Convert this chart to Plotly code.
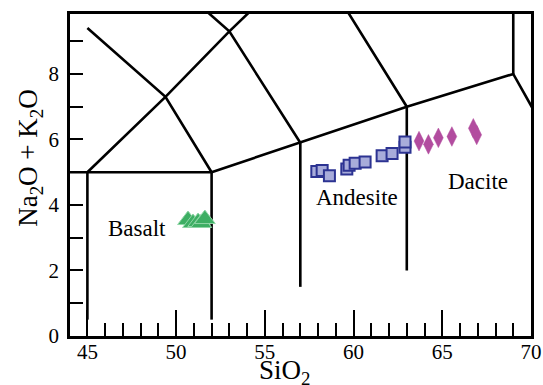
import plotly.graph_objects as go

# Sample compositions (SiO2 wt%, Na2O + K2O wt%)
basalt_sio2 = [50.67, 50.95, 51.24, 51.42, 51.62]
basalt_alk = [3.54, 3.45, 3.48, 3.45, 3.57]

andesite_sio2 = [57.93, 58.23, 58.64, 59.62, 59.75, 60.09, 60.65, 61.61, 62.17, 62.90, 62.90]
andesite_alk = [5.02, 5.05, 4.89, 5.10, 5.21, 5.27, 5.31, 5.50, 5.57, 5.76, 5.92]

dacite_sio2 = [63.69, 64.22, 64.78, 65.54, 66.75, 66.94]
dacite_alk = [5.95, 5.85, 6.05, 6.09, 6.34, 6.14]

# TAS field boundaries (Le Bas et al.), each a polyline of (SiO2, alkali) vertices
boundaries = [
    [(44.0, 5.0), (52.0, 5.0)],
    [(45.0, 0.5), (45.0, 5.0)],
    [(52.0, 0.5), (52.0, 5.0)],
    [(45.0, 5.0), (49.4, 7.3), (53.0, 9.3), (57.6, 11.7)],
    [(45.0, 9.4), (49.4, 7.3), (52.0, 5.0)],
    [(48.4, 11.5), (53.0, 9.3), (57.0, 5.9)],
    [(52.0, 5.0), (57.0, 5.9), (63.0, 7.0), (69.0, 8.0), (77.3, 0.0)],
    [(57.0, 1.5), (57.0, 5.9)],
    [(63.0, 2.0), (63.0, 7.0), (57.6, 11.7)],
    [(69.0, 8.0), (69.0, 13.0)],
]

field_names = ["Basalt", "Andesite", "Dacite"]
field_label_x = [47.80, 60.17, 67.02]
field_label_y = [3.27, 4.22, 4.72]

x_range = [44.02, 70.0]
y_range = [0.0, 9.83]

serif = "Liberation Serif"

fig = go.Figure()

bx, by = [], []
for seg in boundaries:
    for px, py in seg:
        bx.append(px)
        by.append(py)
    bx.append(None)
    by.append(None)

fig.add_trace(go.Scatter(
    x=bx, y=by, mode="lines",
    line=dict(color="black", width=2.6),
    hoverinfo="skip", showlegend=False,
))

fig.add_trace(go.Scatter(
    x=basalt_sio2, y=basalt_alk, mode="markers", name="Basalt",
    marker=dict(symbol="triangle-up", size=18, color="#3dae63",
                line=dict(color="#8fd6a6", width=1)),
    showlegend=False,
))

fig.add_trace(go.Scatter(
    x=andesite_sio2, y=andesite_alk, mode="markers", name="Andesite",
    marker=dict(symbol="square", size=11, color="#a8acda",
                line=dict(color="#2c3392", width=2)),
    showlegend=False,
))

fig.add_trace(go.Scatter(
    x=dacite_sio2, y=dacite_alk, mode="markers", name="Dacite",
    marker=dict(symbol="diamond-tall", size=14, color="#b24c9f",
                line=dict(color="#b24c9f", width=0.5)),
    showlegend=False,
))

for name, lx, ly in zip(field_names, field_label_x, field_label_y):
    fig.add_annotation(
        x=lx, y=ly, xref="x", yref="y", text=name, showarrow=False,
        font=dict(family=serif, size=23, color="black"),
        xanchor="center", yanchor="middle",
    )

# axis titles
fig.add_annotation(
    x=0.466, y=-0.053, xref="paper", yref="paper",
    text="SiO<sub>2</sub>", showarrow=False,
    font=dict(family=serif, size=27, color="black"),
    xanchor="center", yanchor="top",
)
fig.add_annotation(
    x=-0.087, y=0.553, xref="paper", yref="paper",
    text="Na<sub>2</sub>O + K<sub>2</sub>O", showarrow=False, textangle=-90,
    font=dict(family=serif, size=27, color="black"),
    xanchor="center", yanchor="middle",
)

axis_common = dict(
    showgrid=False, zeroline=False, showline=True, linecolor="black",
    linewidth=2.6, mirror=True, ticks="inside", tickcolor="black",
    tickwidth=2, tickfont=dict(family=serif, size=21, color="black"),
    automargin=False,
)

fig.update_xaxes(
    range=x_range, tick0=45, dtick=5, ticklen=26, ticklabelstandoff=-5,
    minor=dict(dtick=1, tick0=45, ticks="inside", ticklen=13,
               tickwidth=2, tickcolor="black", showgrid=False),
    **axis_common,
)
fig.update_yaxes(
    range=y_range, tick0=0, dtick=2, ticklen=13, ticklabelstandoff=4,
    minor=dict(dtick=1, tick0=0, ticks="inside", ticklen=13,
               tickwidth=2, tickcolor="black", showgrid=False),
    **axis_common,
)

fig.update_layout(
    width=543, height=385,
    margin=dict(l=70, r=12, t=14, b=49, pad=0),
    plot_bgcolor="white", paper_bgcolor="white",
    showlegend=False,
)

fig.write_html("out.html")
